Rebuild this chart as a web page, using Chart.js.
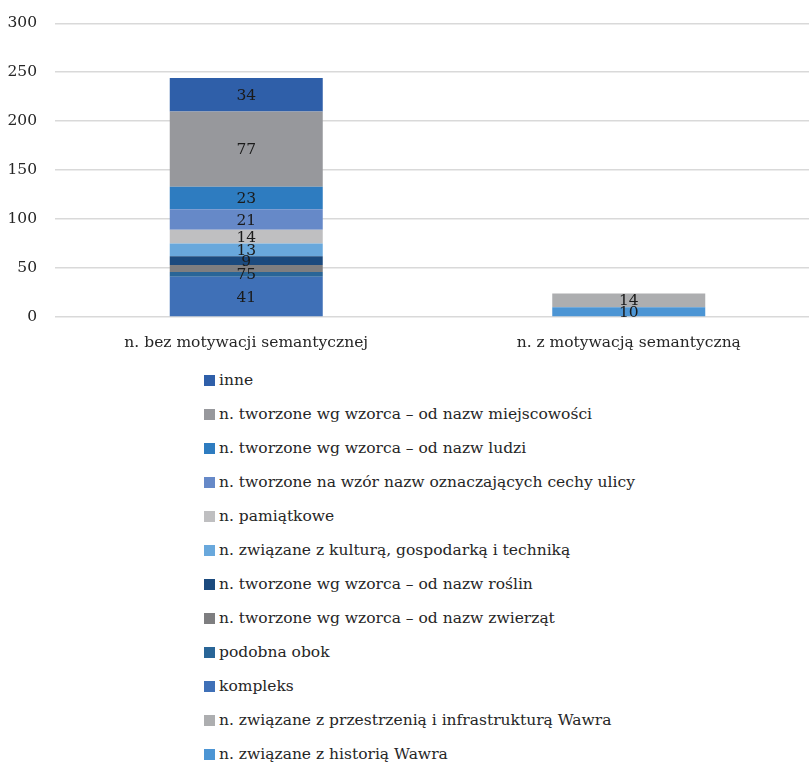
<!DOCTYPE html>
<html>
<head>
<meta charset="utf-8">
<script src="https://cdn.jsdelivr.net/npm/chart.js@4"></script>
<style>
  html, body { margin: 0; padding: 0; background: #fff; overflow: hidden; }
  #wrap { width: 820px; height: 364px; margin-top: -4px; }
  #legenda { margin: 3px 0 0 204px; padding: 0; list-style: none;
    font-family: 'DejaVu Serif', serif; font-size: 15.5px; color: #262626; }
  #legenda li { height: 34px; line-height: 34px; white-space: nowrap; }
  #legenda span { display: inline-block; width: 11px; height: 11px; margin-right: 4px; vertical-align: -1px; }
</style>
</head>
<body>
<div id="wrap"><canvas id="wykres" width="820" height="364"></canvas></div>
<ul id="legenda"></ul>
<script>
const kategorie = ['n. bez motywacji semantycznej', 'n. z motywacją semantyczną'];
const osY = [0, 50, 100, 150, 200, 250, 300];

// serie od dołu słupka do góry
const historia     = [0, 10];
const przestrzen   = [0, 14];
const kompleks     = [41, 0];
const podobnaObok  = [5, 0];
const zwierzat     = [7, 0];
const roslin       = [9, 0];
const kultura      = [13, 0];
const pamiatkowe   = [14, 0];
const cechyUlicy   = [21, 0];
const ludzi        = [23, 0];
const miejscowosci = [77, 0];
const inne         = [34, 0];

const serie = [
  ['n. związane z historią Wawra', historia, '#4c95d4'],
  ['n. związane z przestrzenią i infrastrukturą Wawra', przestrzen, '#adaeb0'],
  ['kompleks', kompleks, '#3f70b7'],
  ['podobna obok', podobnaObok, '#296597'],
  ['n. tworzone wg wzorca – od nazw zwierząt', zwierzat, '#7e7e80'],
  ['n. tworzone wg wzorca – od nazw roślin', roslin, '#1b4a7e'],
  ['n. związane z kulturą, gospodarką i techniką', kultura, '#69a8dc'],
  ['n. pamiątkowe', pamiatkowe, '#bfbfc1'],
  ['n. tworzone na wzór nazw oznaczających cechy ulicy', cechyUlicy, '#6689c8'],
  ['n. tworzone wg wzorca – od nazw ludzi', ludzi, '#2e7cc0'],
  ['n. tworzone wg wzorca – od nazw miejscowości', miejscowosci, '#97989c'],
  ['inne', inne, '#2f5fa9']
];

const czcionka = "'DejaVu Serif', serif";

// etykiety wartości na środku segmentów
const etykiety = {
  id: 'etykiety',
  afterDatasetsDraw(chart) {
    const ctx = chart.ctx;
    ctx.save();
    ctx.font = '15.5px ' + czcionka;
    ctx.fillStyle = '#1a1a1a';
    ctx.textAlign = 'center';
    ctx.textBaseline = 'middle';
    kategorie.forEach((k, i) => {
      const lista = [];
      chart.data.datasets.forEach((ds, d) => {
        const v = ds.data[i];
        if (!v) return;
        const el = chart.getDatasetMeta(d).data[i];
        lista.push({ t: String(v), x: el.x, y: (el.y + el.base) / 2 });
      });
      // zbyt bliskie etykiety łączymy w jeden wiersz
      const wiersze = [];
      lista.forEach(e => {
        const ost = wiersze[wiersze.length - 1];
        if (ost && Math.abs(ost.y - e.y) < 7) ost.t = e.t + ost.t;
        else wiersze.push({ ...e });
      });
      wiersze.forEach(e => ctx.fillText(e.t, e.x, e.y + 1));
    });
    ctx.restore();
  }
};

Chart.defaults.font.family = czcionka;
Chart.defaults.font.size = 15.5;
Chart.defaults.color = '#262626';

new Chart(document.getElementById('wykres'), {
  type: 'bar',
  data: {
    labels: kategorie,
    datasets: serie.map(s => ({
      label: s[0],
      data: s[1],
      backgroundColor: s[2],
      borderWidth: 0,
      barPercentage: 0.4,
      categoryPercentage: 1
    }))
  },
  options: {
    responsive: false,
    animation: false,
    devicePixelRatio: 1,
    layout: { padding: { left: 0, right: 0, top: 14, bottom: 0 } },
    plugins: { legend: { display: false }, tooltip: { enabled: false } },
    scales: {
      x: {
        stacked: true,
        grid: { display: false },
        border: { display: false },
        ticks: { padding: 9 },
        afterFit: ax => { ax.height = 43; }
      },
      y: {
        stacked: true,
        min: osY[0],
        max: osY[osY.length - 1],
        afterBuildTicks: ax => { ax.ticks = osY.map(v => ({ value: v })); },
        grid: { color: '#d9d9d9', lineWidth: 1.5, drawTicks: false },
        border: { display: false },
        ticks: { padding: 18 },
        afterFit: ax => { ax.width = 55; }
      }
    }
  },
  plugins: [etykiety]
});

// legenda w kolejności odwrotnej (jak w oryginale)
const ul = document.getElementById('legenda');
serie.slice().reverse().forEach(s => {
  const li = document.createElement('li');
  const kw = document.createElement('span');
  kw.style.background = s[2];
  li.appendChild(kw);
  li.appendChild(document.createTextNode(s[0]));
  ul.appendChild(li);
});
</script>
</body>
</html>
